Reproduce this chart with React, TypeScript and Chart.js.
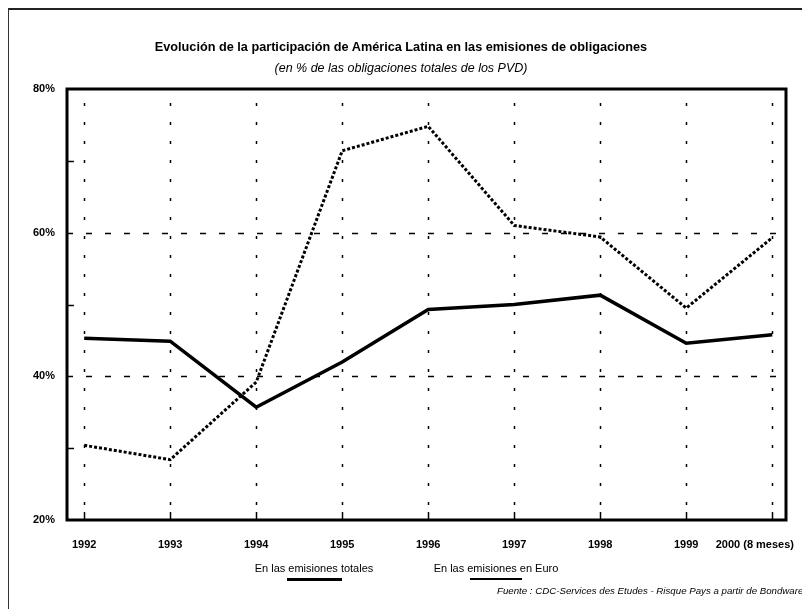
import React, { useEffect, useRef } from "react";
import { Chart, registerables } from "chart.js";

Chart.register(...registerables);

const YEARS = ["1992", "1993", "1994", "1995", "1996", "1997", "1998", "1999", "2000 (8 meses)"];
const TOTAL_LABEL = "En las emisiones totales";
const EURO_LABEL = "En las emisiones en Euro";
const TOTAL_VALUES = [45.3, 44.9, 35.7, 42.0, 49.3, 50.0, 51.3, 44.6, 45.8];
const EURO_VALUES = [30.4, 28.4, 39.2, 71.4, 74.8, 61.0, 59.4, 49.5, 59.3];
const Y_TICKS = [20, 30, 40, 50, 60, 70, 80];
const Y_LABELED = [20, 40, 60, 80];
const GRID_DASHED = [40, 60];
const MINOR_TICKS = [30, 50, 70];
const TITLE = "Evolución de la participación de América Latina en las emisiones de obligaciones";
const SUBTITLE = "(en % de las obligaciones totales de los PVD)";
const SOURCE = "Fuente : CDC-Services des Etudes - Risque Pays a partir de Bondware";

const FONT = "'Liberation Sans', Arial, Helvetica, sans-serif";

const framePlugin = {
  id: "frame",
  beforeDatasetsDraw(chart: any) {
    const { ctx, chartArea: a, scales } = chart;
    const x = scales.x;
    const y = scales.y;
    ctx.save();
    ctx.strokeStyle = "#000";
    ctx.lineCap = "butt";
    // vertical dotted grid
    ctx.lineWidth = 1.5;
    ctx.setLineDash([3, 16]);
    YEARS.forEach((_, i) => {
      const px = Math.round(x.getPixelForValue(i)) + 0.5;
      ctx.beginPath();
      ctx.moveTo(px, a.top + 14);
      ctx.lineTo(px, a.bottom - 10);
      ctx.stroke();
    });
    // bottom tick marks
    ctx.setLineDash([]);
    YEARS.forEach((_, i) => {
      const px = Math.round(x.getPixelForValue(i)) + 0.5;
      ctx.beginPath();
      ctx.moveTo(px, a.bottom);
      ctx.lineTo(px, a.bottom - 8);
      ctx.stroke();
    });
    // horizontal dashed grid
    ctx.lineWidth = 1.6;
    ctx.setLineDash([6, 13]);
    GRID_DASHED.forEach((v) => {
      const py = Math.round(y.getPixelForValue(v)) + 0.5;
      ctx.beginPath();
      ctx.moveTo(a.left, py);
      ctx.lineTo(a.right, py);
      ctx.stroke();
    });
    // minor ticks
    ctx.setLineDash([]);
    ctx.lineWidth = 1.5;
    MINOR_TICKS.forEach((v) => {
      const py = Math.round(y.getPixelForValue(v)) + 0.5;
      ctx.beginPath();
      ctx.moveTo(a.left, py);
      ctx.lineTo(a.left + 7, py);
      ctx.stroke();
    });
    ctx.restore();
  },
  afterDraw(chart: any) {
    const { ctx, chartArea: a, scales } = chart;
    const x = scales.x;
    ctx.save();
    ctx.strokeStyle = "#000";
    ctx.lineWidth = 3;
    ctx.setLineDash([]);
    ctx.strokeRect(a.left, a.top, a.right - a.left, a.bottom - a.top);
    // x labels
    ctx.fillStyle = "#000";
    ctx.font = `bold 11px ${FONT}`;
    ctx.textAlign = "center";
    ctx.textBaseline = "middle";
    YEARS.forEach((lab, i) => {
      const px = x.getPixelForValue(i);
      const w = ctx.measureText(lab).width;
      const cx = Math.min(px, a.right + 8 - w / 2);
      ctx.fillText(lab, cx, a.bottom + 25);
    });
    ctx.restore();
  },
};

export default function App() {
  const ref = useRef<HTMLCanvasElement>(null);

  useEffect(() => {
    document.body.style.margin = "0";
    const chart = new Chart(ref.current as HTMLCanvasElement, {
      type: "line",
      data: {
        datasets: [
          {
            label: TOTAL_LABEL,
            data: TOTAL_VALUES.map((v, i) => ({ x: i, y: v })),
            borderColor: "#000",
            borderWidth: 3.5,
            pointRadius: 0,
            tension: 0,
            fill: false,
          },
          {
            label: EURO_LABEL,
            data: EURO_VALUES.map((v, i) => ({ x: i, y: v })),
            borderColor: "#000",
            borderWidth: 3,
            borderDash: [3, 2],
            pointRadius: 0,
            tension: 0,
            fill: false,
          },
        ],
      },
      options: {
        animation: false,
        responsive: false,
        maintainAspectRatio: false,
        layout: { padding: { top: 89, right: 16, left: 0, bottom: 0 } },
        plugins: {
          legend: { display: false },
          title: { display: false },
          tooltip: { enabled: false },
        },
        scales: {
          x: {
            type: "linear",
            min: -0.2,
            max: 8.16,
            ticks: { display: false },
            grid: { display: false, drawTicks: false },
            border: { display: false },
            afterFit: (s: any) => {
              s.height = 89;
            },
          },
          y: {
            min: 20,
            max: 80,
            afterBuildTicks: (s: any) => {
              s.ticks = Y_TICKS.map((v) => ({ value: v }));
            },
            ticks: {
              autoSkip: false,
              color: "#000",
              padding: 12,
              font: { family: FONT, size: 11, weight: "bold" },
              callback: (v: any) => (Y_LABELED.includes(Number(v)) ? `${v}%` : ""),
            },
            grid: { display: false, drawTicks: false },
            border: { display: false },
            afterFit: (s: any) => {
              s.width = 67;
            },
          },
        },
      },
      plugins: [framePlugin],
    });
    return () => chart.destroy();
  }, []);

  const legendItems = [
    { label: TOTAL_LABEL, center: 314, lineW: 55, thick: 3 },
    { label: EURO_LABEL, center: 496, lineW: 52, thick: 2 },
  ];

  return (
    <div
      style={{
        position: "relative",
        width: 802,
        height: 609,
        overflow: "hidden",
        background: "#fff",
        fontFamily: FONT,
        color: "#000",
      }}
    >
      <div
        style={{
          position: "absolute",
          left: 8,
          top: 8,
          width: 900,
          height: 700,
          borderLeft: "1.5px solid #333",
          borderTop: "2px solid #222",
        }}
      />
      <canvas ref={ref} width={802} height={609} style={{ position: "absolute", left: 0, top: 0 }} />
      <div
        style={{
          position: "absolute",
          left: 0,
          width: 802,
          top: 39,
          textAlign: "center",
          fontSize: 12.7,
          fontWeight: "bold",
          lineHeight: "16px",
          whiteSpace: "nowrap",
        }}
      >
        {TITLE}
      </div>
      <div
        style={{
          position: "absolute",
          left: 0,
          width: 802,
          top: 60,
          textAlign: "center",
          fontSize: 12.5,
          fontStyle: "italic",
          lineHeight: "16px",
          whiteSpace: "nowrap",
        }}
      >
        {SUBTITLE}
      </div>
      {legendItems.map((it) => (
        <React.Fragment key={it.label}>
          <div
            style={{
              position: "absolute",
              left: it.center - 100,
              width: 200,
              top: 561,
              textAlign: "center",
              fontSize: 11,
              lineHeight: "14px",
              whiteSpace: "nowrap",
            }}
          >
            {it.label}
          </div>
          <div
            style={{
              position: "absolute",
              left: it.center - it.lineW / 2,
              width: it.lineW,
              top: 578,
              height: it.thick,
              background: "#000",
            }}
          />
        </React.Fragment>
      ))}
      <div
        style={{
          position: "absolute",
          left: 497,
          top: 584,
          fontSize: 9.7,
          fontStyle: "italic",
          lineHeight: "13px",
          whiteSpace: "nowrap",
        }}
      >
        {SOURCE}
      </div>
    </div>
  );
}
